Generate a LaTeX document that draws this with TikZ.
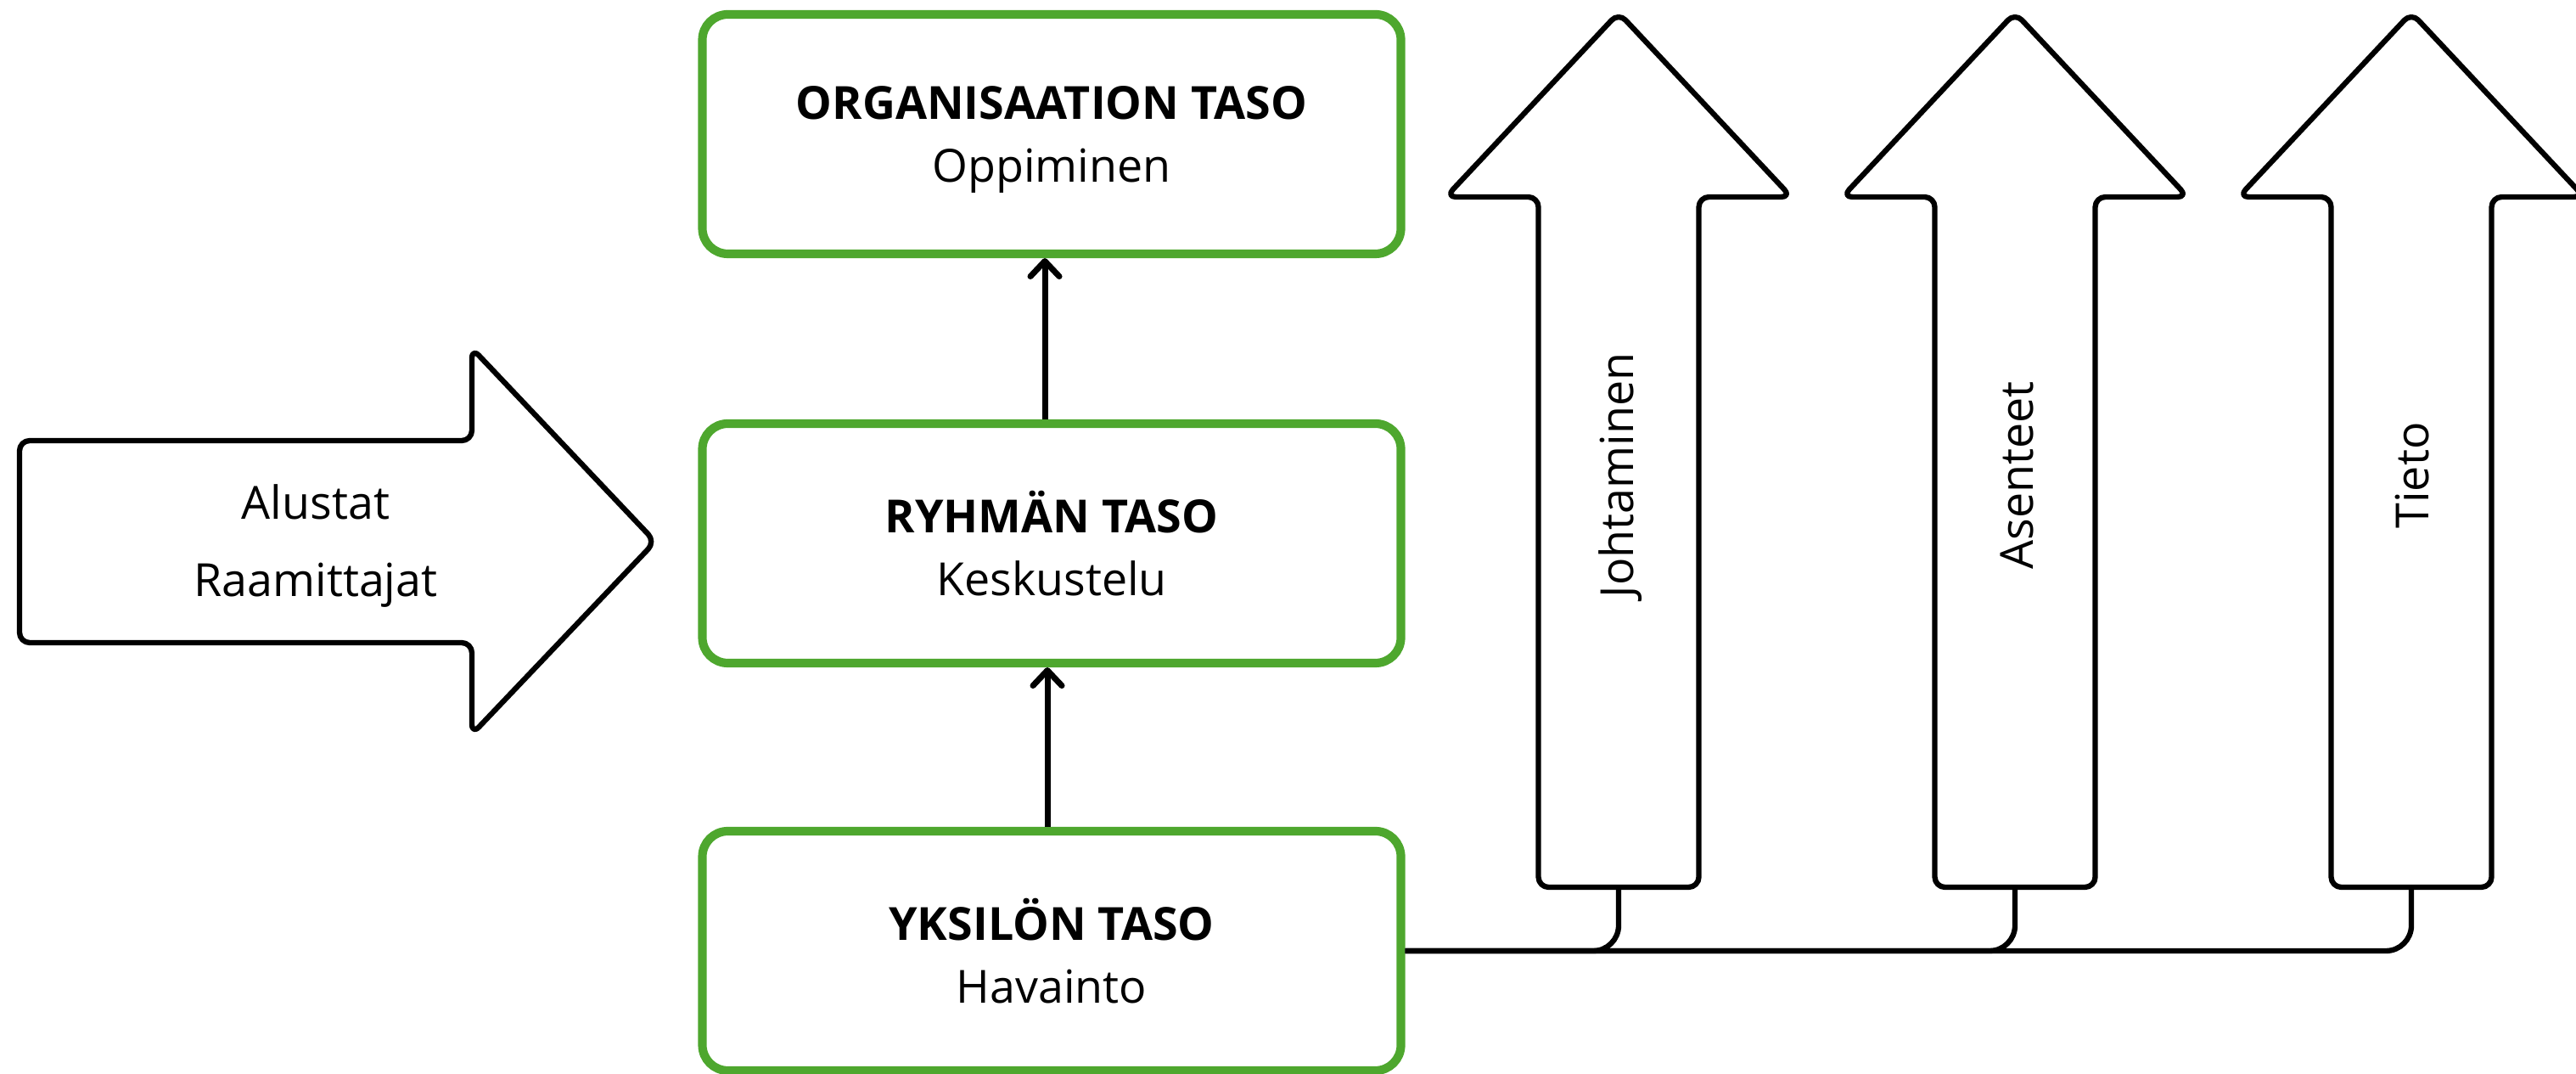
\documentclass[tikz,border=0pt]{standalone}
\usepackage{fontspec}
\setmainfont{Open Sans}
\usetikzlibrary{arrows.meta}
\definecolor{levelgreen}{HTML}{4EA72E}

\begin{document}
\begin{tikzpicture}[>={Straight Barb[length=1.8mm, width=3.4mm, round]},
    level/.style={draw=levelgreen, line width=2.9pt, rounded corners=0.3cm,
        minimum width=8.23cm, minimum height=2.82cm, align=center, text depth=0pt,
        font=\fontsize{15.3}{21}\selectfont},
    bigarrow/.style={line width=1.8pt, rounded corners=0.12cm, line join=round},
    conn/.style={line width=1.8pt, rounded corners=0.3cm},
    label/.style={font=\fontsize{15.3}{26}\selectfont, align=center}]
    % Fix the page size
    \useasboundingbox (0,0) rectangle (30.35,12.65);

    % Draw the three levels
    \node[level] (org) at (12.39,11.07) {\textbf{ORGANISAATION TASO}\\Oppiminen};
    \node[level] (ryh) at (12.39,6.25) {\textbf{RYHMÄN TASO}\\Keskustelu};
    \node[level] (yks) at (12.39,1.45) {\textbf{YKSILÖN TASO}\\Havainto};

    % Draw the arrows between the levels
    \draw[->, line width=2pt] ([xshift=-0.08cm]ryh.north) -- ([xshift=-0.08cm]org.south);
    \draw[->, line width=2pt] ([xshift=-0.05cm]yks.north) -- ([xshift=-0.05cm]ryh.south);

    % Draw the big arrow on the left
    \coordinate (Lt) at (7.72,6.27);
    \draw[bigarrow] (0.23,5.08) -- (0.23,7.46) -- (5.56,7.46) -- (5.56,8.55)
        -- (Lt) -- (5.56,4.00) -- (5.56,5.08) -- cycle;
    \node[label] (ala) at (3.72,6.22) {Alustat\\Raamittajat};

    % Define the feet of the three up arrows
    \coordinate (Jb) at (19.07,2.20);
    \coordinate (Ab) at (23.74,2.20);
    \coordinate (Tb) at (28.41,2.20);

    % Draw the lines from the individual level to the arrows
    \draw[conn] (yks.east) -| (Jb);
    \draw[conn] (yks.east) -| (Ab);
    \draw[conn] (yks.east) -| (Tb);

    % Draw the up arrows
    \draw[bigarrow] ([xshift=-0.945cm]Jb) -- ++(0,8.13) -- ++(-1.09,0) -- ++(2.035,2.17)
        -- ++(2.035,-2.17) -- ++(-1.09,0) -- ++(0,-8.13) -- cycle;
    \draw[bigarrow] ([xshift=-0.945cm]Ab) -- ++(0,8.13) -- ++(-1.09,0) -- ++(2.035,2.17)
        -- ++(2.035,-2.17) -- ++(-1.09,0) -- ++(0,-8.13) -- cycle;
    \draw[bigarrow] ([xshift=-0.945cm]Tb) -- ++(0,8.13) -- ++(-1.09,0) -- ++(2.035,2.17)
        -- ++(2.035,-2.17) -- ++(-1.09,0) -- ++(0,-8.13) -- cycle;

    % Label the up arrows
    \node[label, rotate=90] (joh) at (19.09,7.05) {Johtaminen};
    \node[label, rotate=90] (ase) at (23.76,7.05) {Asenteet};
    \node[label, rotate=90] (tie) at (28.42,7.05) {Tieto};
\end{tikzpicture}
\end{document}
